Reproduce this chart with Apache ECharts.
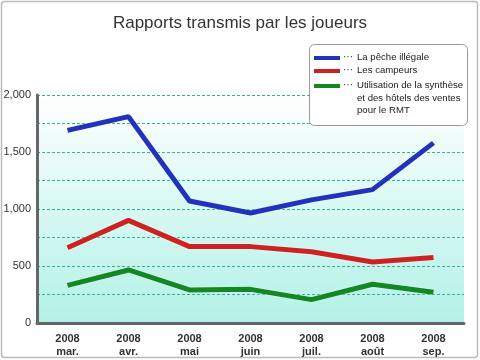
<!DOCTYPE html>
<html><head><meta charset="utf-8">
<script src="https://cdn.jsdelivr.net/npm/echarts@6/dist/echarts.min.js"></script>
<style>html,body{margin:0;padding:0;background:#fff}#c{width:480px;height:360px}</style>
</head><body><div id="c"></div>
<script>
const categories = ['2008\nmar.', '2008\navr.', '2008\nmai', '2008\njuin', '2008\njuil.', '2008\naoût', '2008\nsep.'];
const seriesNames = ['La pêche illégale', 'Les campeurs', 'Utilisation de la synthèse\net des hôtels des ventes\npour le RMT'];
const peche = [1690, 1810, 1070, 965, 1080, 1170, 1580];
const campeurs = [660, 900, 670, 670, 625, 535, 575];
const synthese = [330, 465, 290, 295, 205, 340, 270];
const yTicks = [0, 500, 1000, 1500, 2000];

const colors = ['#2233bb', '#cc2222', '#118822'];
const font = '"Liberation Sans", Arial, sans-serif';
const chart = echarts.init(document.getElementById('c'));
const mk = (name, data, color) => ({
  name, type: 'line', data, symbol: 'none', smooth: false,
  lineStyle: { width: 5, color, shadowColor: 'rgba(255,255,255,0.9)', shadowBlur: 2 },
  itemStyle: { color }, z: 3
});
// custom legend box (layout only)
const legendRows = [58, 71, 86];
const legendGraphics = [{
  type: 'rect', shape: { x: 309.5, y: 44.5, width: 158, height: 81, r: 5 },
  style: { fill: '#fff', stroke: '#999', lineWidth: 1 }, z: 20
}];
seriesNames.forEach((n, i) => {
  const y = legendRows[i];
  legendGraphics.push({ type: 'rect', shape: { x: 314, y: y - 2, width: 26, height: 4 }, style: { fill: colors[i] }, z: 21 });
  legendGraphics.push({ type: 'text', x: 343, y: y - 1, style: { text: '···', fill: '#333', font: '10px ' + font, verticalAlign: 'middle' }, z: 21 });
  legendGraphics.push({ type: 'text', x: 357, y: y - 7, style: { text: n, fill: '#222', font: '9.6px ' + font, lineHeight: 12.6, verticalAlign: 'top' }, z: 21 });
});
chart.setOption({
  animation: false,
  textStyle: { fontFamily: font },
  title: {
    text: 'Rapports transmis par les joueurs', left: 'center', top: 10,
    textStyle: { fontSize: 17, fontWeight: 'normal', color: '#333', fontFamily: font }
  },
  graphic: [{
    type: 'rect', shape: { x: 1.5, y: 1.5, width: 476, height: 356, r: 3 },
    style: { fill: 'none', stroke: '#bbb', lineWidth: 1.5 }, z: -10
  }].concat(legendGraphics),
  grid: {
    left: 37, right: 16, top: 95, bottom: 37,
    show: true, borderWidth: 0,
    backgroundColor: new echarts.graphic.LinearGradient(0, 0, 0, 1, [
      { offset: 0, color: '#ffffff' }, { offset: 0.45, color: '#dcf9f4' }, { offset: 1, color: '#b2f1e7' }
    ])
  },
  xAxis: {
    type: 'category', data: categories, boundaryGap: true,
    axisLine: { lineStyle: { color: '#666', width: 3 } },
    axisTick: { inside: true, length: 5, lineStyle: { color: '#666', width: 2 } },
    axisLabel: { color: '#333', fontSize: 11, fontWeight: 'bold', margin: 9, lineHeight: 13, fontFamily: font },
    splitLine: { show: false }
  },
  yAxis: {
    type: 'value', min: 0, max: 2000, interval: 250,
    axisLine: { show: true, lineStyle: { color: '#666', width: 3 } },
    axisTick: { show: false },
    axisLabel: {
      color: '#333', fontSize: 11, margin: 6, fontFamily: font,
      formatter: v => yTicks.includes(v) ? v.toLocaleString('en-US') : ''
    },
    splitLine: { show: true, lineStyle: { color: '#33b496', type: [3, 2], width: 1 } }
  },
  series: [mk(seriesNames[0], peche, colors[0]), mk(seriesNames[1], campeurs, colors[1]), mk(seriesNames[2], synthese, colors[2])]
});
</script></body></html>
